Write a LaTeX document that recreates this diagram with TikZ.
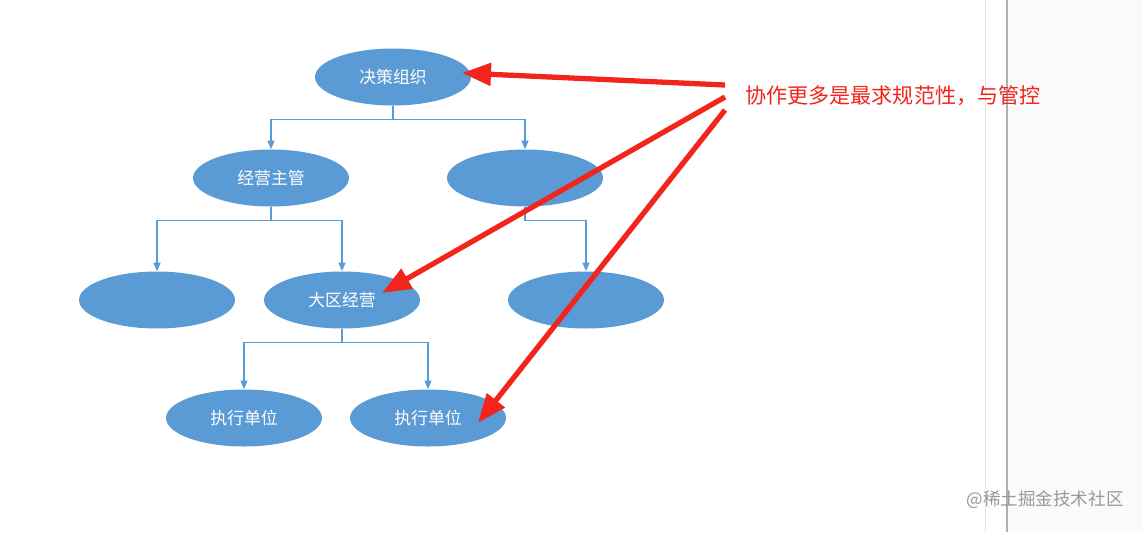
\documentclass[tikz,border=0pt]{standalone}
\usepackage{fontspec}
\setmainfont{Noto Sans CJK SC}
\usetikzlibrary{positioning,shapes.geometric,arrows.meta}
\definecolor{orgblue}{HTML}{5B9BD5}
\definecolor{notered}{HTML}{F2241B}
\definecolor{paneline}{HTML}{B0B0B0}
\tikzset{
  org/.style={
    ellipse,
    fill=orgblue,
    minimum width=3.12cm,
    minimum height=1.14cm,
    inner sep=0pt,
    text=white,
    font=\fontsize{9.6}{11}\selectfont,
  },
  link/.style={draw=orgblue, line width=0.7pt, -{Triangle[length=1.7mm, width=1.4mm]}},
  hint/.style={draw=notered, line width=3pt, -{Triangle[length=5.8mm, width=4.4mm]}},
}
\begin{document}
\begin{tikzpicture}[x=0.02cm, y=-0.02cm]
  \useasboundingbox (0,0) rectangle (1142,532);
  \fill[white] (0,0) rectangle (1142,532);
  \fill[black!2] (1008,0) rectangle (1142,532);
  \draw[black!10, line width=0.4pt] (985,0) -- (985,532);
  \draw[paneline, line width=0.6pt] (1007,0) -- (1007,532);

  \node[org] (decide) at (393,77)  {决策组织};
  \node[org] (mgr)    at (271,178) {经营主管};
  \node[org] (side)   at (525,178) {};
  \node[org] (leafL)  at (157,300) {};
  \node[org] (region) at (342,300) {大区经营};
  \node[org] (leafR)  at (586,300) {};
  \node[org] (execA)  at (244,418) {执行单位};
  \node[org] (execB)  at (428,418) {执行单位};

  \draw[link] (decide.south) -- ++(0,14) -| (mgr.north);
  \draw[link] (decide.south) -- ++(0,14) -| (side.north);
  \draw[link] (mgr.south) -- ++(0,14) -| (leafL.north);
  \draw[link] (mgr.south) -- ++(0,14) -| (region.north);
  \draw[link] (side.south) -- ++(0,14) -| (leafR.north);
  \draw[link] (region.south) -- ++(0,14) -| (execA.north);
  \draw[link] (region.south) -- ++(0,14) -| (execB.north);

  \node[anchor=west, text=notered, font=\fontsize{12}{14}\selectfont, inner sep=0pt] (note) at (745,96) {协作更多是最求规范性，与管控};
  \coordinate (s1) at (725,85);
  \coordinate (s2) at (725,97);
  \coordinate (s3) at (725,110);
  \coordinate (t1) at (462,73);
  \coordinate (t2) at (382,293);
  \coordinate (t3) at (478,423);
  \foreach \k in {1,2,3} {
    \draw[hint] (s\k) -- (t\k);
  }

  \node[text=black!40, font=\fontsize{10}{12}\selectfont, inner sep=0pt] (mark) at (1045,500) {@稀土掘金技术社区};
\end{tikzpicture}
\end{document}
